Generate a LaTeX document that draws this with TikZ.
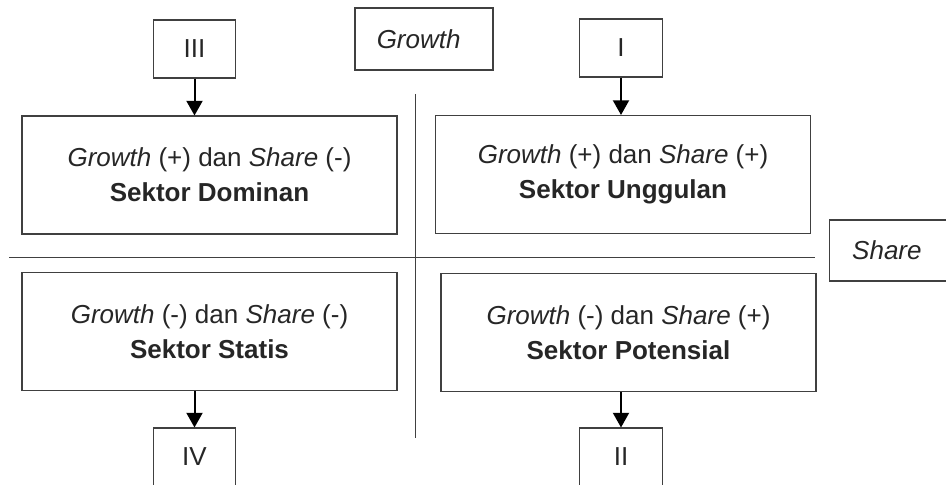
\documentclass[tikz,border=0pt]{standalone}
\usepackage{fontspec}
\setmainfont{Liberation Sans}
\usepackage{xcolor}
\usepackage{tikz}
\usetikzlibrary{arrows.meta,positioning,calc}
\definecolor{ink}{HTML}{262626}
\definecolor{rule}{HTML}{404040}

\begin{document}
\begin{tikzpicture}[x=0.75pt,y=-0.75pt,
    font=\fontsize{19.5}{26}\selectfont,text=ink,
    box/.style={draw=rule,line width=0.8pt,inner sep=0pt,align=center},
    bigbox/.style={box,minimum width=281.25pt,minimum height=88.5pt},
    numbox/.style={box,minimum width=62pt,minimum height=43.5pt},
    axis/.style={draw=rule,line width=0.75pt},
    flow/.style={draw=black,line width=1.5pt,-{Triangle[width=12pt,length=11pt]}}]
  \useasboundingbox (0,0) rectangle (946,485);
  \clip (0,0) rectangle (946,485);

  % axes of the quadrants
  \coordinate (vtop) at (415,94);
  \coordinate (vbot) at (415,438);
  \coordinate (hleft) at (9,257);
  \coordinate (hright) at (815,257);
  \draw[axis] (vtop) -- (vbot);
  \draw[axis] (hleft) -- (hright);

  % axis labels
  \node[box,minimum width=103.5pt,minimum height=46.5pt] (growth) at (424,39)
    {\itshape Growth\hspace{8pt}};
  \node[box,anchor=west,minimum width=100pt,minimum height=45.75pt,
    text width=100pt,align=left] (share) at (829,250.5)
    {\hspace{17pt}\itshape Share};

  % quadrant boxes
  \node[bigbox] (dominan) at (209.5,175)
    {\textit{Growth} (+) dan \textit{Share} (-)\\ \textbf{Sektor Dominan}};
  \node[bigbox] (unggulan) at (623,174.5)
    {\textit{Growth} (+) dan \textit{Share} (+)\\ \textbf{Sektor Unggulan}};
  \node[bigbox] (statis) at (209.5,331.5)
    {\textit{Growth} (-) dan \textit{Share} (-)\\ \textbf{Sektor Statis}};
  \node[bigbox] (potensial) at (628.5,332.5)
    {\textit{Growth} (-) dan \textit{Share} (+)\\ \textbf{Sektor Potensial}};

  % quadrant numbers
  \node[numbox] (kuadIII) at (194.5,49) {III};
  \node[numbox] (kuadI) at (621,48) {I};
  \node[numbox] (kuadIV) at (194.5,457) {IV};
  \node[numbox] (kuadII) at (621,457) {II};

  \draw[flow] (kuadIII.south) -- (kuadIII.south |- dominan.north);
  \draw[flow] (kuadI.south) -- (kuadI.south |- unggulan.north);
  \draw[flow] (statis.south -| kuadIV.north) -- (kuadIV.north);
  \draw[flow] (potensial.south -| kuadII.north) -- (kuadII.north);
\end{tikzpicture}
\end{document}
